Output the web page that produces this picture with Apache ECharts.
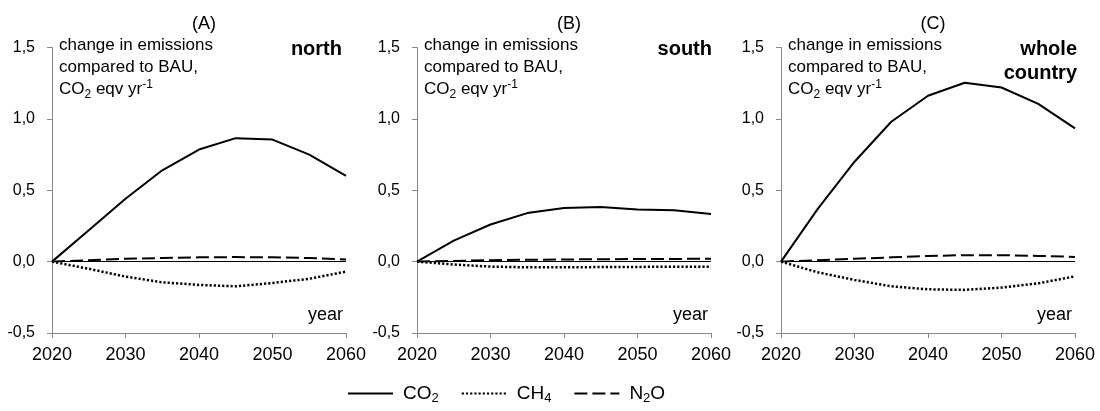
<!DOCTYPE html>
<html><head><meta charset="utf-8">
<script src="https://cdn.jsdelivr.net/npm/echarts@6/dist/echarts.min.js"></script>
<style>html,body{margin:0;padding:0;background:#fff}#c{width:1100px;height:411px}</style>
</head><body><div id="c"></div>
<script>
const years = [2020, 2025, 2030, 2035, 2040, 2045, 2050, 2055, 2060];
const xTicks = [2020, 2030, 2040, 2050, 2060];
const yTicks = [-0.5, 0, 0.5, 1.0, 1.5];
const panelTitles = ['(A)', '(B)', '(C)'];
const regionNames = ['north', 'south', 'whole\ncountry'];
const seriesNames = ['CO2', 'CH4', 'N2O'];

const co2North = [0, 0.22, 0.44, 0.64, 0.785, 0.865, 0.855, 0.75, 0.60];
const ch4North = [0, -0.05, -0.105, -0.145, -0.163, -0.173, -0.15, -0.12, -0.07];
const n2oNorth = [0, 0.01, 0.02, 0.025, 0.03, 0.032, 0.03, 0.025, 0.015];

const co2South = [0, 0.147, 0.26, 0.34, 0.376, 0.383, 0.366, 0.36, 0.334];
const ch4South = [0, -0.02, -0.035, -0.04, -0.04, -0.038, -0.037, -0.036, -0.035];
const n2oSouth = [0, 0.005, 0.01, 0.013, 0.015, 0.017, 0.018, 0.019, 0.02];

const co2Whole = [0, 0.37, 0.70, 0.98, 1.162, 1.253, 1.22, 1.105, 0.933];
const ch4Whole = [0, -0.075, -0.128, -0.173, -0.194, -0.198, -0.182, -0.152, -0.103];
const n2oWhole = [0, 0.01, 0.02, 0.03, 0.04, 0.045, 0.045, 0.04, 0.033];

const panels = [
  [co2North, ch4North, n2oNorth],
  [co2South, ch4South, n2oSouth],
  [co2Whole, ch4Whole, n2oWhole]
];

const FONT = '"Liberation Sans", Arial, sans-serif';
const gridLefts = [52, 417, 781];
const gridWidth = 294;
const gridTop = 47.5;
const gridHeight = 285.5;
const regionRight = [342, 712, 1077];
const yearRight = [343, 708, 1072];

const lineStyles = [
  { color: '#000', width: 2, type: 'solid' },
  { color: '#000', width: 2.5, type: [2.2, 2], cap: 'butt' },
  { color: '#000', width: 2, type: [13, 5] }
];

const grids = [], xAxes = [], yAxes = [], series = [], titles = [], graphics = [];
panels.forEach((p, i) => {
  grids.push({ left: gridLefts[i], top: gridTop, width: gridWidth, height: gridHeight });
  xAxes.push({
    type: 'value', gridIndex: i, min: xTicks[0], max: xTicks[xTicks.length - 1], interval: 10,
    axisLine: { onZero: false, lineStyle: { color: '#888', width: 1 } },
    axisTick: { show: true, length: 5, lineStyle: { color: '#888' } },
    splitLine: { show: false },
    axisLabel: { margin: 13, fontSize: 18, color: '#000', fontFamily: FONT, formatter: v => String(v) }
  });
  yAxes.push({
    type: 'value', gridIndex: i, min: yTicks[0], max: yTicks[yTicks.length - 1], interval: 0.5,
    axisLine: { show: true, lineStyle: { color: '#888', width: 1 } },
    axisTick: { show: true, length: 5, lineStyle: { color: '#888' } },
    splitLine: { show: false },
    axisLabel: { margin: 17, fontSize: 16, color: '#000', fontFamily: FONT,
      formatter: v => v.toFixed(1).replace('.', ',') }
  });
  p.forEach((arr, k) => {
    const s = {
      name: seriesNames[k], type: 'line', xAxisIndex: i, yAxisIndex: i,
      symbol: 'none', silent: true, animation: false,
      lineStyle: lineStyles[k], itemStyle: { color: '#000' },
      data: years.map((y, j) => [y, arr[j]]), z: 3
    };
    if (k === 0) {
      s.markLine = { silent: true, symbol: 'none', animation: false, label: { show: false },
        lineStyle: { color: '#000', width: 1, type: 'solid' }, data: [{ yAxis: 0 }] };
    }
    series.push(s);
  });
  titles.push({ text: panelTitles[i], left: gridLefts[i] + gridWidth / 2, top: 10, textAlign: 'center',
    textStyle: { fontSize: 18, fontWeight: 'normal', color: '#000', fontFamily: FONT } });
  graphics.push({
    type: 'text', left: gridLefts[i] + 7, top: 37,
    style: {
      text: '{t|change in emissions}\n{t|compared to BAU,}\n{t|CO}{sub|2}{t| eqv yr}{sup|-1}',
      rich: {
        t: { fontSize: 17, fontFamily: FONT, fill: '#000', lineHeight: 22 },
        sub: { fontSize: 12, fontFamily: FONT, fill: '#000', lineHeight: 22, verticalAlign: 'bottom', padding: [7, 0, 0, 0] },
        sup: { fontSize: 12, fontFamily: FONT, fill: '#000', lineHeight: 22, verticalAlign: 'top', padding: [0, 0, 8, 0] }
      }
    }
  });
  graphics.push({
    type: 'text', right: 1100 - regionRight[i], top: 37,
    style: { text: regionNames[i], font: 'bold 20px ' + FONT, fill: '#000', textAlign: 'right', lineHeight: 24 }
  });
  graphics.push({
    type: 'text', right: 1100 - yearRight[i], top: 306,
    style: { text: 'year', font: '18px ' + FONT, fill: '#000' }
  });
});

const chart = echarts.init(document.getElementById('c'), null, { renderer: 'canvas' });
chart.setOption({
  animation: false,
  backgroundColor: '#fff',
  title: titles,
  grid: grids,
  xAxis: xAxes,
  yAxis: yAxes,
  series: series,
  graphic: graphics,
  legend: {
    data: seriesNames, left: 347, top: 384, padding: 0, itemWidth: 45, itemHeight: 14, itemGap: 22,
    selectedMode: false,
    itemStyle: { opacity: 0, borderWidth: 0 },
    formatter: n => ({ CO2: '{m|CO}{s|2}', CH4: '{m|CH}{s|4}', N2O: '{m|N}{s|2}{m|O}' })[n],
    textStyle: {
      padding: [0, 0, 0, 5],
      rich: {
        m: { fontSize: 19, fontFamily: FONT, color: '#000', lineHeight: 22 },
        s: { fontSize: 13, fontFamily: FONT, color: '#000', lineHeight: 22, verticalAlign: 'bottom', padding: [7, 0, 0, 0] }
      }
    }
  }
});
</script>
</body></html>
